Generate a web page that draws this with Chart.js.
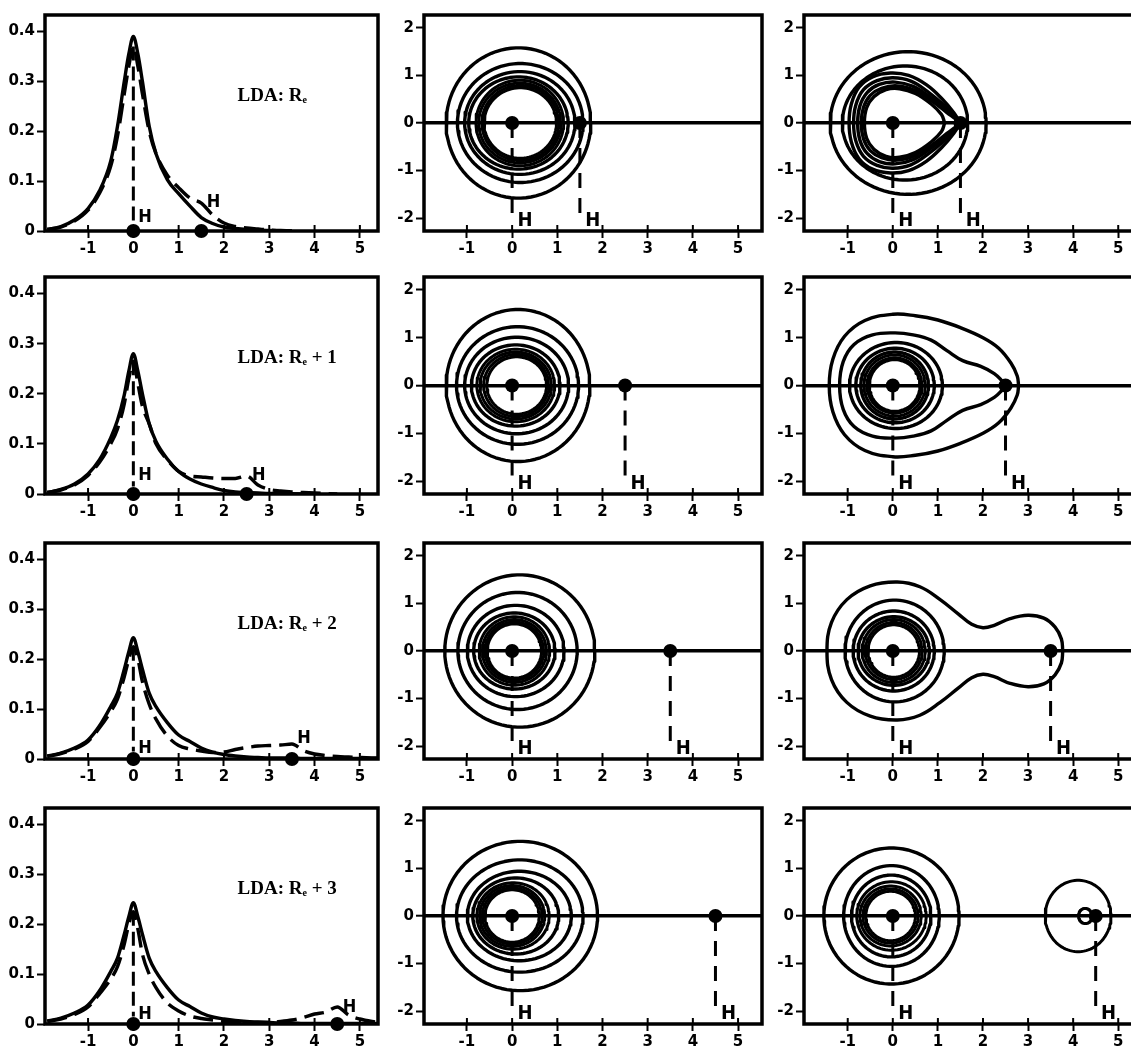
<!DOCTYPE html>
<html><head><meta charset="utf-8">
<script src="https://cdn.jsdelivr.net/npm/chart.js@4.4.1/dist/chart.umd.min.js"></script>
<style>
html,body{margin:0;padding:0;background:#fff;overflow:hidden;width:1131px;height:1050px;position:relative}
canvas{position:absolute}
</style></head><body>
<script>
// ---------- tick labels ----------
const xTickValues = [-1, 0, 1, 2, 3, 4, 5];
const densityTickValues = [0, 0.1, 0.2, 0.3, 0.4];
const contourTickValues = [-2, -1, 0, 1, 2];

// ---------- nuclei & labels ----------
const nucleusR = [1.5, 2.5, 3.5, 4.5];
const ldaSuffix = ['', ' + 1', ' + 2', ' + 3'];

// ---------- 1D density profiles (left column) ----------
const xGrid = [-1.9,-1.6,-1.3,-1.0,-0.75,-0.5,-0.35,-0.2,-0.1,0,0.1,0.2,0.35,0.5,0.75,1.0,1.25,1.5,1.75,2.0,2.25,2.5,2.75,3.0,3.25,3.5,3.75,4.0,4.25,4.5,4.75,5.0,5.4];
const solid0  = [0.003,0.009,0.022,0.045,0.08,0.14,0.21,0.30,0.355,0.39,0.355,0.30,0.21,0.155,0.103,0.075,0.05,0.027,0.015,0.008,0.005,0.003,0.002,0.001,0.0005,0,null,null,null,null,null,null,null];
const dashed0 = [0.003,0.008,0.02,0.042,0.075,0.13,0.19,0.275,0.33,0.37,0.33,0.275,0.2,0.155,0.112,0.087,0.066,0.056,0.032,0.016,0.009,0.006,0.004,0.002,0.001,0,null,null,null,null,null,null,null];
const solid1  = [0.003,0.009,0.02,0.04,0.068,0.112,0.147,0.198,0.245,0.28,0.245,0.2,0.14,0.105,0.07,0.045,0.03,0.02,0.013,0.007,0.004,0.003,0.002,0.001,0.001,0.0005,0,null,null,null,null,null,null];
const dashed1 = [0.003,0.008,0.018,0.037,0.063,0.1,0.13,0.18,0.23,0.265,0.22,0.175,0.14,0.1,0.068,0.045,0.036,0.034,0.032,0.031,0.031,0.036,0.018,0.009,0.006,0.004,0.003,0.002,0.001,0,null,null,null];
const solid2  = [0.006,0.012,0.022,0.038,0.066,0.105,0.132,0.18,0.215,0.243,0.215,0.18,0.132,0.105,0.073,0.048,0.035,0.022,0.014,0.009,0.006,0.004,0.003,0.002,0.002,0.002,0.001,0.001,0.001,0.001,0.001,0.001,0.001];
const dashed2 = [0.005,0.011,0.02,0.035,0.062,0.095,0.12,0.165,0.2,0.225,0.2,0.155,0.11,0.08,0.046,0.027,0.02,0.016,0.013,0.014,0.019,0.023,0.026,0.027,0.028,0.03,0.017,0.01,0.007,0.005,0.004,0.003,0.002];
const solid3  = [0.006,0.012,0.022,0.038,0.066,0.105,0.132,0.18,0.215,0.243,0.215,0.18,0.132,0.105,0.073,0.048,0.035,0.022,0.014,0.01,0.007,0.005,0.004,0.003,0.002,0.002,0.001,0.001,0.001,0.001,0.001,0.001,0.001];
const dashed3 = [0.005,0.01,0.019,0.034,0.06,0.09,0.115,0.16,0.2,0.225,0.19,0.14,0.1,0.073,0.042,0.026,0.016,0.011,0.008,0.005,0.004,0.003,0.003,0.003,0.005,0.008,0.013,0.02,0.024,0.034,0.018,0.01,0.003];

// ---------- contour rings: [centre x, radius x, radius y] ----------
const midRings0 = [[0.14,1.6,1.58],[0.18,1.39,1.25],[0.17,1.22,1.08],[0.14,1.1,0.97],[0.17,0.97,0.9],[0.17,0.91,0.84],[0.18,0.85,0.79],[0.18,0.8,0.74]];
const midRings1 = [[0.13,1.59,1.59],[0.12,1.35,1.23],[0.1,1.15,1.01],[0.08,0.98,0.85],[0.08,0.86,0.76],[0.08,0.79,0.7],[0.09,0.72,0.65],[0.1,0.66,0.6]];
const midRings2 = [[0.17,1.66,1.6],[0.12,1.32,1.23],[0.08,1.07,0.96],[0.05,0.9,0.8],[0.05,0.78,0.72],[0.05,0.71,0.66],[0.05,0.65,0.61],[0.05,0.6,0.57]];
const midRings3 = [[0.18,1.71,1.57],[0.17,1.4,1.18],[0.16,1.15,0.94],[0.08,0.95,0.8],[0.02,0.8,0.7],[0.0,0.72,0.64],[0.0,0.66,0.59],[0.0,0.6,0.55]];

const rightRings0 = [[0.34,1.73,1.5],[0.27,1.39,1.2]];
const rightRings1 = [[0.07,1.03,0.9],[0.05,0.87,0.78],[0.04,0.75,0.7],[0.04,0.68,0.64],[0.04,0.61,0.58],[0.04,0.56,0.54]];
const rightRings2 = [[0.04,1.1,1.07],[0.02,0.9,0.84],[0.02,0.79,0.72],[0.02,0.7,0.66],[0.02,0.63,0.6],[0.02,0.57,0.55]];
const rightRings3 = [[-0.03,1.5,1.43],[-0.03,1.06,1.06],[-0.035,0.88,0.86],[-0.03,0.77,0.72],[-0.05,0.68,0.63],[-0.05,0.61,0.57],[-0.05,0.55,0.52],[4.11,0.73,0.75],[4.27,0.15,0.16]];

// ---------- irregular contours: upper halves [x, y], left end to right end ----------
const rightShapes0 = [
  [[-0.97,0],[-0.92,0.4],[-0.75,0.75],[-0.45,0.97],[-0.05,1.05],[0.35,1.0],[0.75,0.8],[1.1,0.5],[1.35,0.22],[1.5,0]],
  [[-0.87,0],[-0.82,0.38],[-0.65,0.7],[-0.35,0.89],[0,0.95],[0.4,0.88],[0.8,0.64],[1.15,0.36],[1.38,0.15],[1.5,0]],
  [[-0.78,0],[-0.73,0.36],[-0.57,0.64],[-0.3,0.81],[0.05,0.86],[0.45,0.77],[0.85,0.53],[1.2,0.27],[1.4,0.1],[1.5,0]],
  [[-0.7,0],[-0.65,0.33],[-0.5,0.58],[-0.25,0.73],[0.1,0.78],[0.5,0.68],[0.9,0.44],[1.2,0.22],[1.4,0.08],[1.5,0]],
  [[-0.63,0],[-0.58,0.32],[-0.42,0.55],[-0.15,0.7],[0.15,0.72],[0.5,0.62],[0.85,0.4],[1.08,0.18],[1.15,0]]
];
const rightShapes1 = [
  [[-1.41,0],[-1.33,0.55],[-1.07,1.03],[-0.62,1.36],[0,1.49],[0.5,1.46],[1.0,1.37],[1.5,1.21],[2.0,1.0],[2.35,0.78],[2.62,0.47],[2.76,0.2],[2.79,0]],
  [[-1.18,0],[-1.1,0.5],[-0.86,0.86],[-0.45,1.06],[0.05,1.1],[0.45,1.06],[0.85,0.95],[1.2,0.73],[1.55,0.52],[1.95,0.4],[2.25,0.25],[2.42,0.1],[2.5,0]]
];
const rightShapes2 = [
  [[-1.46,0],[-1.36,0.6],[-1.02,1.08],[-0.5,1.37],[0.1,1.45],[0.6,1.35],[1.05,1.08],[1.45,0.78],[1.75,0.56],[2.0,0.49],[2.25,0.54],[2.6,0.68],[3.0,0.75],[3.35,0.69],[3.6,0.5],[3.74,0.25],[3.77,0]]
];
const rightShapes3 = [];

// ---------- layout ----------
const COLS = [{l:45,r:378,min:-1.95,max:5.4},{l:424,r:762,min:-1.95,max:5.53},{l:804,r:1134,min:-1.97,max:5.35}];
const ROWS = [{t:14,b:231},{t:276,b:494},{t:542,b:759},{t:807,b:1024}];
const YW = 50, XH = 34, PT = 10, PR = 8;
const LW = 3.4, LW_DENSE = 3;
const TICK_FONT = {family:'"DejaVu Sans", "Liberation Sans", sans-serif', weight:'bold', size:15};
const H_FONT = 'bold 20px "Liberation Sans Narrow", "DejaVu Sans Condensed", "Liberation Sans", sans-serif';
const H_FONT_L = 'bold 18px "Liberation Sans Narrow", "DejaVu Sans Condensed", "Liberation Sans", sans-serif';
const LDA_FONT = 'bold 19px "Liberation Serif", "Times New Roman", serif';
const SUB_FONT = 'bold 10px "Liberation Serif", "Times New Roman", serif';

function makeCanvas(col,row){
  const c = COLS[col], r = ROWS[row];
  const w = (c.r-c.l) + YW + (col===2?0:PR), h = (r.b-r.t) + PT + XH;
  const cv = document.createElement('canvas');
  cv.width = w; cv.height = h;
  cv.style.left = (c.l-YW)+'px'; cv.style.top = (r.t-PT)+'px';
  cv.style.width = w+'px'; cv.style.height = h+'px';
  document.body.appendChild(cv);
  return cv;
}

const framePlugin = {id:'frame', afterDatasetsDraw(chart){
  const a = chart.chartArea, ctx = chart.ctx, xs = chart.scales.x;
  ctx.save(); ctx.strokeStyle='#000'; ctx.lineWidth=3.5;
  ctx.strokeRect(a.left, a.top, a.right-a.left, a.bottom-a.top);
  // inner part of the x tick marks (they cross the bottom axis)
  ctx.lineWidth = 2;
  xs.ticks.forEach(t=>{ const px = xs.getPixelForValue(t.value); ctx.beginPath(); ctx.moveTo(px, a.bottom); ctx.lineTo(px, a.bottom-6); ctx.stroke(); });
  ctx.restore();
}};

function textPlugin(items){
  return {id:'panelText', afterDatasetsDraw(chart){
    const ctx = chart.ctx, xs = chart.scales.x, ys = chart.scales.y;
    ctx.save(); ctx.fillStyle='#000'; ctx.textAlign='left'; ctx.textBaseline='alphabetic';
    items.forEach(it=>{
      const px = xs.getPixelForValue(it.x), py = ys.getPixelForValue(it.y);
      if (it.lda !== undefined){
        ctx.font = LDA_FONT; ctx.fillText('LDA: R', px, py);
        const w = ctx.measureText('LDA: R').width;
        ctx.font = SUB_FONT; ctx.fillText('e', px+w, py+2);
        const we = ctx.measureText('e').width;
        ctx.font = LDA_FONT; ctx.fillText(it.lda, px+w+we, py);
      } else {
        ctx.font = it.font; ctx.fillText(it.text, px, py);
      }
    });
    ctx.restore();
  }};
}

function xScale(c){
  return {type:'linear', min:c.min, max:c.max,
    afterFit:s=>{s.height=XH;},
    afterBuildTicks:s=>{s.ticks = xTickValues.map(v=>({value:v}));},
    ticks:{autoSkip:false, maxRotation:0, minRotation:0, color:'#000', font:TICK_FONT, padding:2, callback:v=>String(v)},
    grid:{drawOnChartArea:false, drawTicks:true, tickLength:7, tickWidth:2, tickColor:'#000'},
    border:{display:false}};
}
function yDensity(){
  return {type:'linear', min:0, max:0.433,
    afterFit:s=>{s.width=YW;},
    afterBuildTicks:s=>{s.ticks = densityTickValues.map(v=>({value:v}));},
    ticks:{autoSkip:false, color:'#000', font:TICK_FONT, padding:2, callback:v=> v===0?'0':Number(v).toFixed(1)},
    grid:{drawOnChartArea:false, drawTicks:true, tickLength:8, tickWidth:2, tickColor:'#000'},
    border:{display:false}};
}
function yContour(){
  return {type:'linear', min:-2.27, max:2.27,
    afterFit:s=>{s.width=YW;},
    afterBuildTicks:s=>{s.ticks = contourTickValues.map(v=>({value:v}));},
    ticks:{autoSkip:false, color:'#000', font:TICK_FONT, padding:2, callback:v=>String(v)},
    grid:{drawOnChartArea:true, drawTicks:true, tickLength:8, tickWidth:2, tickColor:'#000',
      color:c=> (c.tick && c.tick.value===0) ? '#000' : 'rgba(0,0,0,0)',
      lineWidth:c=> (c.tick && c.tick.value===0) ? 3.4 : 1},
    border:{display:false}};
}

function makeChart(cv, col, datasets, items, yOpts){
  return new Chart(cv, {
    type:'scatter',
    data:{datasets},
    options:{
      responsive:false, animation:false, events:[],
      layout:{padding:{left:0, top:PT, right:(col===2?0:PR), bottom:0}, autoPadding:false},
      plugins:{legend:{display:false}, tooltip:{enabled:false}},
      scales:{x:xScale(COLS[col]), y:yOpts}
    },
    plugins:[framePlugin, textPlugin(items)]
  });
}

const lineBase = {showLine:true, pointRadius:0, borderColor:'#000', borderWidth:LW, fill:false, borderCapStyle:'butt', borderJoinStyle:'round'};
function dots(pts){ return {data:pts, showLine:false, pointRadius:7, pointBackgroundColor:'#000', pointBorderColor:'#000', pointBorderWidth:0, clip:false}; }
function ellipsePath(cx,rx,ry){ const p=[]; const n=90; for(let i=0;i<=n;i++){ const t=2*Math.PI*i/n; p.push({x:cx+rx*Math.cos(t), y:ry*Math.sin(t)}); } return p; }
function mirroredPath(upper){ const p=[]; for(let i=upper.length-1;i>=0;i--) p.push({x:upper[i][0], y:upper[i][1]}); for(let i=1;i<upper.length;i++) p.push({x:upper[i][0], y:-upper[i][1]}); return p; }
function curve(vals){ const p=[]; xGrid.forEach((x,i)=>{ if(vals[i]!==null) p.push({x, y:vals[i]}); }); return p; }

const solids = [solid0, solid1, solid2, solid3];
const dasheds = [dashed0, dashed1, dashed2, dashed3];
const midRings = [midRings0, midRings1, midRings2, midRings3];
const rightRings = [rightRings0, rightRings1, rightRings2, rightRings3];
const rightShapes = [rightShapes0, rightShapes1, rightShapes2, rightShapes3];
const densityHLabelY = [[0.019,0.049],[0.027,0.027],[0.012,0.032],[0.011,0.024]];
const H_LINE_BOTTOM = -2.06, H_LABEL_Y = -2.17;

for (let row=0; row<4; row++){
  const R = nucleusR[row];
  // left: density profiles
  {
    const ds = [
      Object.assign({}, lineBase, {data:curve(solids[row]), cubicInterpolationMode:'monotone'}),
      Object.assign({}, lineBase, {data:curve(dasheds[row]), cubicInterpolationMode:'monotone', borderDash:[20,8]}),
      Object.assign({}, lineBase, {data:[{x:0,y:dasheds[row][9]},{x:0,y:0.015}], borderDash:[14,6], borderWidth:3}),
      dots([{x:0,y:0},{x:R,y:0}])
    ];
    const items = [
      {text:'H', x:0.11, y:densityHLabelY[row][0], font:H_FONT_L},
      {text:'H', x:R+0.12, y:densityHLabelY[row][1], font:H_FONT_L},
      {lda:ldaSuffix[row], x:2.3, y:0.261}
    ];
    makeChart(makeCanvas(0,row), 0, ds, items, yDensity());
  }
  // middle: contours
  {
    const ds = [];
    midRings[row].forEach((r,i)=> ds.push(Object.assign({}, lineBase, {data:ellipsePath(r[0],r[1],r[2]), borderWidth:(i<4?LW:LW_DENSE), tension:0})));
    ds.push(Object.assign({}, lineBase, {data:[{x:0,y:0},{x:0,y:H_LINE_BOTTOM}], borderDash:[15,10], borderWidth:3}));
    ds.push(Object.assign({}, lineBase, {data:[{x:R,y:0},{x:R,y:H_LINE_BOTTOM}], borderDash:[15,10], borderWidth:3}));
    ds.push(dots([{x:0,y:0},{x:R,y:0}]));
    const items = [{text:'H', x:0.12, y:H_LABEL_Y, font:H_FONT},{text:'H', x:R+0.12, y:H_LABEL_Y, font:H_FONT}];
    makeChart(makeCanvas(1,row), 1, ds, items, yContour());
  }
  // right: contours
  {
    const ds = [];
    rightRings[row].forEach((r,i)=> ds.push(Object.assign({}, lineBase, {data:ellipsePath(r[0],r[1],r[2]), borderWidth:(i<3?LW:LW_DENSE), tension:0})));
    rightShapes[row].forEach(s=> ds.push(Object.assign({}, lineBase, {data:mirroredPath(s), tension:0.4})));
    ds.push(Object.assign({}, lineBase, {data:[{x:0,y:0},{x:0,y:H_LINE_BOTTOM}], borderDash:[15,10], borderWidth:3}));
    ds.push(Object.assign({}, lineBase, {data:[{x:R,y:0},{x:R,y:H_LINE_BOTTOM}], borderDash:[15,10], borderWidth:3}));
    ds.push(dots([{x:0,y:0},{x:R,y:0}]));
    const items = [{text:'H', x:0.12, y:H_LABEL_Y, font:H_FONT},{text:'H', x:R+0.12, y:H_LABEL_Y, font:H_FONT}];
    makeChart(makeCanvas(2,row), 2, ds, items, yContour());
  }
}
</script>
</body></html>
